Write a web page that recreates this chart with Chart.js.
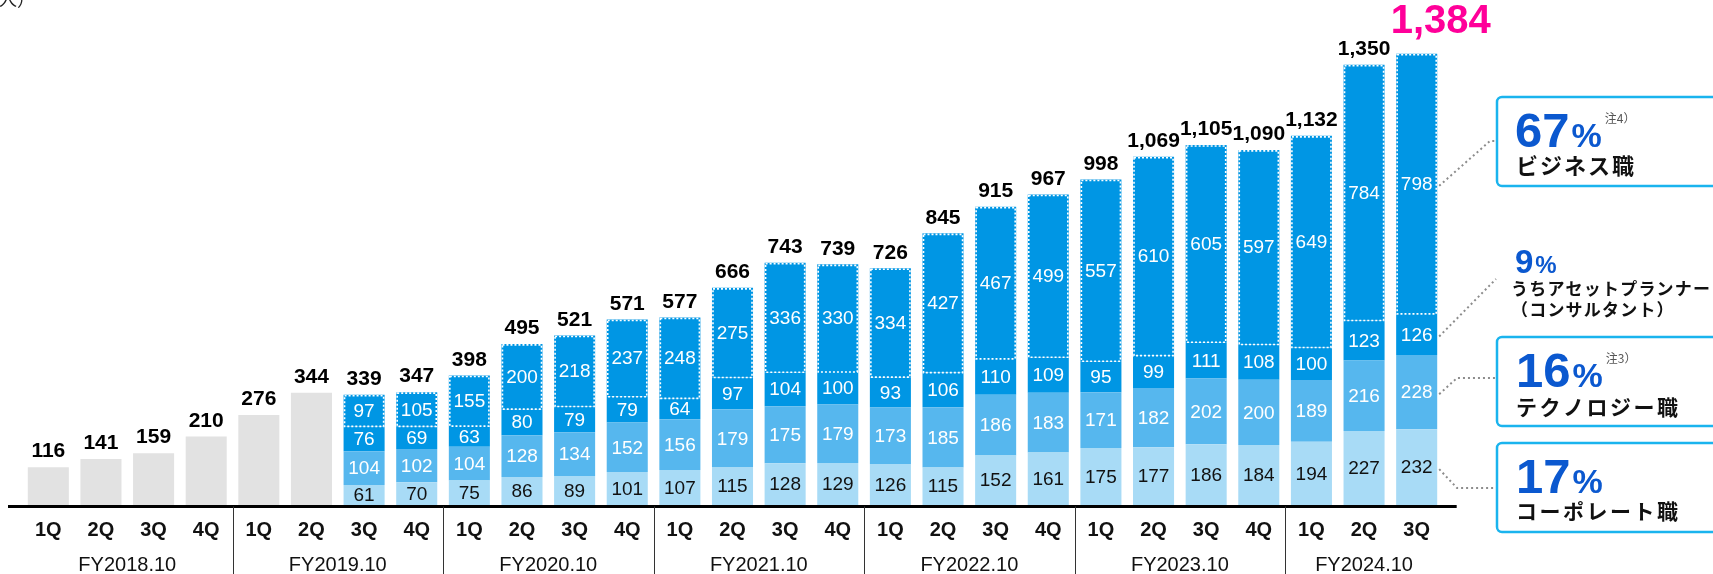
<!DOCTYPE html>
<html>
<head>
<meta charset="utf-8">
<script src="https://cdn.jsdelivr.net/npm/chart.js@4"></script>
<style>
  html, body { margin: 0; padding: 0; background: #fff; }
  #wrap { width: 1713px; height: 574px; position: relative; }
</style>
</head>
<body>
<div id="wrap"><canvas id="headcountChart"></canvas></div>
<script>
const quarters = ['1Q','2Q','3Q','4Q','1Q','2Q','3Q','4Q','1Q','2Q','3Q','4Q','1Q','2Q','3Q','4Q',
  '1Q','2Q','3Q','4Q','1Q','2Q','3Q','4Q','1Q','2Q','3Q'];
const fiscalYears = ['FY2018.10','FY2019.10','FY2020.10','FY2021.10','FY2022.10','FY2023.10','FY2024.10'];
const quartersPerYear = [4, 4, 4, 4, 4, 4, 3];

const totals = [116,141,159,210,276,344,339,347,398,495,521,571,577,666,743,739,726,845,915,967,998,1069,1105,1090,1132,1350,1384];
const earlyTotal = [116,141,159,210,276,344,null,null,null,null,null,null,null,null,null,null,null,null,null,null,null,null,null,null,null,null,null];
const corporate = [null,null,null,null,null,null,61,70,75,86,89,101,107,115,128,129,126,115,152,161,175,177,186,184,194,227,232];
const technology = [null,null,null,null,null,null,104,102,104,128,134,152,156,179,175,179,173,185,186,183,171,182,202,200,189,216,228];
const assetPlanner = [null,null,null,null,null,null,76,69,63,80,79,79,64,97,104,100,93,106,110,109,95,99,111,108,100,123,126];
const business = [null,null,null,null,null,null,97,105,155,200,218,237,248,275,336,330,334,427,467,499,557,610,605,597,649,784,798];

const NUM_FONT = '"Liberation Sans", Arial, sans-serif';
const JP_FONT = '"Noto Sans CJK JP", "Noto Sans", sans-serif';
const PCT_BLUE = '#0b58cf';

const drawExtras = {
  id: 'drawExtras',
  afterDatasetsDraw(chart) {
    const { ctx, chartArea, scales: { x } } = chart;
    const n = quarters.length;
    ctx.save();

    // dotted outline around the business segment
    const bizMeta = chart.getDatasetMeta(4);
    ctx.strokeStyle = '#ffffff';
    ctx.lineWidth = 1.6;
    ctx.setLineDash([2, 2]);
    bizMeta.data.forEach((el, i) => {
      if (business[i] == null) return;
      const w = el.width;
      ctx.strokeRect(el.x - w / 2 + 1, el.y + 1, w - 2, el.base - el.y - 1);
    });
    ctx.setLineDash([]);

    // segment value labels
    ctx.textAlign = 'center';
    ctx.textBaseline = 'middle';
    ctx.font = '19px ' + NUM_FONT;
    [1, 2, 3, 4].forEach(d => {
      const meta = chart.getDatasetMeta(d);
      const vals = chart.data.datasets[d].data;
      ctx.fillStyle = d === 1 ? '#111111' : '#ffffff';
      meta.data.forEach((el, i) => {
        if (vals[i] == null) return;
        ctx.fillText(String(vals[i]), el.x, (el.y + el.base) / 2 + 1);
      });
    });

    // total labels above bars
    ctx.textBaseline = 'bottom';
    for (let i = 0; i < n; i++) {
      let top = Infinity, cx = 0;
      chart.data.datasets.forEach((ds, d) => {
        if (ds.data[i] == null) return;
        const el = chart.getDatasetMeta(d).data[i];
        if (el.y < top) { top = el.y; cx = el.x; }
      });
      const label = totals[i].toLocaleString('en-US');
      if (i === n - 1) {
        ctx.font = 'bold 40px ' + NUM_FONT;
        ctx.fillStyle = '#ff0099';
        ctx.fillText(label, cx + 24, top - 12);
      } else {
        ctx.font = 'bold 21px ' + NUM_FONT;
        ctx.fillStyle = '#000000';
        ctx.fillText(label, cx, top - 5);
      }
    }

    // baseline
    const baseY = chartArea.bottom + 1.5;
    ctx.strokeStyle = '#000000';
    ctx.lineWidth = 3;
    ctx.beginPath();
    ctx.moveTo(8, baseY);
    ctx.lineTo(x.getPixelForValue(n - 1) + 40, baseY);
    ctx.stroke();

    // quarter labels
    ctx.font = 'bold 20px ' + NUM_FONT;
    ctx.fillStyle = '#111111';
    ctx.textBaseline = 'middle';
    quarters.forEach((q, i) => ctx.fillText(q, x.getPixelForValue(i), 530));

    // fiscal-year labels and separators
    ctx.font = '20px ' + NUM_FONT;
    ctx.lineWidth = 1;
    ctx.strokeStyle = '#333333';
    let start = 0;
    fiscalYears.forEach((fy, g) => {
      const end = start + quartersPerYear[g] - 1;
      const mid = (x.getPixelForValue(start) + x.getPixelForValue(end)) / 2;
      ctx.fillText(fy, mid, 565);
      if (g < fiscalYears.length - 1) {
        const sx = Math.round((x.getPixelForValue(end) + x.getPixelForValue(end + 1)) / 2) + 0.5;
        ctx.beginPath();
        ctx.moveTo(sx, baseY);
        ctx.lineTo(sx, 574);
        ctx.stroke();
      }
      start = end + 1;
    });

    // unit caption (cut at top)
    ctx.textAlign = 'left';
    ctx.textBaseline = 'bottom';
    ctx.font = '18px ' + JP_FONT;
    ctx.fillStyle = '#222';
    ctx.fillText('人）', -1, 8);

    // leader lines from the latest bar
    const last = n - 1;
    const segY = d => {
      const el = chart.getDatasetMeta(d).data[last];
      return { x: el.x + el.width / 2 + 2, y: (el.y + el.base) / 2 + 2 };
    };
    ctx.strokeStyle = '#8c8c8c';
    ctx.lineWidth = 2;
    ctx.setLineDash([2, 3]);
    const leader = (p, pts) => {
      ctx.beginPath();
      ctx.moveTo(p.x, p.y);
      pts.forEach(q => ctx.lineTo(q[0], q[1]));
      ctx.stroke();
    };
    leader(segY(4), [[1490, 141], [1497, 141]]);
    leader(segY(3), [[1496, 279]]);
    leader(segY(2), [[1457, 378], [1497, 378]]);
    leader(segY(1), [[1457, 488], [1497, 488]]);
    ctx.setLineDash([]);

    // callout boxes
    ctx.strokeStyle = '#1ab4ee';
    ctx.lineWidth = 2.5;
    const box = (top, bottom) => {
      ctx.beginPath();
      ctx.roundRect(1497, top, 260, bottom - top, 5);
      ctx.stroke();
    };
    box(97, 186);
    box(337, 426);
    box(443, 532);

    const pct = (num, px, baseline, bigSize, smallSize, note) => {
      ctx.textAlign = 'left';
      ctx.textBaseline = 'alphabetic';
      ctx.fillStyle = PCT_BLUE;
      ctx.font = 'bold ' + bigSize + 'px ' + NUM_FONT;
      ctx.fillText(num, px, baseline);
      const w = ctx.measureText(num).width;
      ctx.font = 'bold ' + smallSize + 'px ' + NUM_FONT;
      ctx.fillText('%', px + w + 2, baseline);
      if (note) {
        const w2 = ctx.measureText('%').width;
        ctx.font = '12px ' + JP_FONT;
        ctx.fillStyle = '#555555';
        ctx.textBaseline = 'top';
        ctx.fillText(note, px + w + w2 + 5, baseline - 35);
      }
    };
    const jp = (text, px, cy, size, spacing) => {
      ctx.textAlign = 'left';
      ctx.textBaseline = 'middle';
      ctx.fillStyle = '#111111';
      ctx.font = 'bold ' + size + 'px ' + JP_FONT;
      ctx.letterSpacing = spacing + 'px';
      ctx.fillText(text, px, cy);
      ctx.letterSpacing = '0px';
    };

    pct('67', 1515, 147, 49, 34, '注4）');
    jp('ビジネス職', 1516, 166, 22, 2);

    pct('9', 1515, 273, 33, 24, null);
    jp('うちアセットプランナー', 1511, 289, 17, 1.2);
    jp('（コンサルタント）', 1511, 310, 17, 1.2);

    pct('16', 1516, 387, 49, 34, '注3）');
    jp('テクノロジー職', 1516, 407, 21, 2.5);

    pct('17', 1516, 493, 49, 34, null);
    jp('コーポレート職', 1516, 511, 21, 2.5);

    ctx.restore();
  }
};

const barCommon = {
  stack: 'total',
  borderWidth: 0,
  barPercentage: 0.78,
  categoryPercentage: 1.0
};

new Chart(document.getElementById('headcountChart'), {
  type: 'bar',
  data: {
    labels: quarters,
    datasets: [
      { ...barCommon, label: 'total', data: earlyTotal, backgroundColor: '#e2e2e2' },
      { ...barCommon, label: 'コーポレート職', data: corporate, backgroundColor: '#a8dbf6' },
      { ...barCommon, label: 'テクノロジー職', data: technology, backgroundColor: '#56b7ee' },
      { ...barCommon, label: 'アセットプランナー', data: assetPlanner, backgroundColor: '#0096e4' },
      { ...barCommon, label: 'ビジネス職', data: business, backgroundColor: '#0096e4' }
    ]
  },
  options: {
    responsive: true,
    maintainAspectRatio: false,
    animation: false,
    layout: {
      padding: { left: 22, right: 270, top: 10, bottom: 69 }
    },
    plugins: {
      legend: { display: false },
      tooltip: { enabled: false }
    },
    scales: {
      x: {
        stacked: true,
        display: false
      },
      y: {
        stacked: true,
        display: false,
        min: 0,
        max: 1518
      }
    }
  },
  plugins: [drawExtras]
});
</script>
</body>
</html>
